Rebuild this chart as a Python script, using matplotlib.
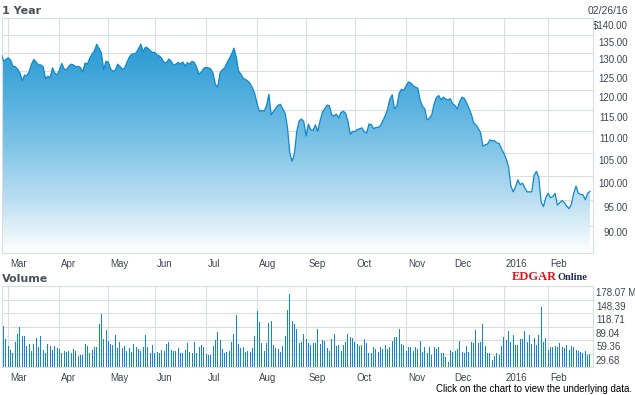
import matplotlib
matplotlib.use("Agg")
import matplotlib.pyplot as plt
import numpy as np
from matplotlib.colors import LinearSegmentedColormap
from matplotlib.patches import Polygon
from matplotlib.ticker import NullLocator
from matplotlib.transforms import ScaledTranslation

plt.rcParams["font.family"] = ["Liberation Sans", "DejaVu Sans"]

# daily close, one value per trading session (02/25/15 .. 02/26/16)
price = [
    129.6, 127.7, 128.2, 128.6, 128.0, 126.4, 126.2, 125.6, 124.5, 122.5,
    124.0, 123.8, 125.0, 126.9, 128.2, 127.4, 126.7, 126.7, 126.2, 123.1,
    123.7, 123.3, 125.9, 124.5, 124.0, 125.3, 127.1, 125.6, 125.4, 126.3,
    126.9, 126.7, 126.2, 126.3, 126.0, 124.8, 127.2, 126.9, 128.5, 129.6,
    130.5, 132.4, 131.2, 130.0, 125.4, 127.7, 127.4, 125.6, 125.0, 125.3,
    126.9, 126.3, 125.6, 125.8, 127.4, 128.8, 129.6, 129.7, 130.0, 131.2,
    132.4, 130.3, 131.6, 131.3, 130.6, 130.1, 130.1, 129.4, 129.1, 128.4,
    127.3, 127.3, 128.3, 127.7, 126.6, 126.9, 127.4, 126.9, 127.5, 126.4,
    127.3, 126.9, 127.7, 127.3, 126.0, 124.2, 124.8, 125.8, 126.0, 125.9,
    125.6, 124.5, 121.6, 120.8, 124.5, 125.4, 125.9, 127.3, 128.4, 129.7,
    131.3, 128.8, 125.0, 124.2, 123.1, 122.8, 122.4, 121.7, 120.6, 119.0,
    116.5, 114.8, 115.0, 114.8, 116.2, 119.0, 113.9, 114.8, 115.6, 116.3,
    116.5, 115.3, 114.3, 110.9, 105.0, 103.2, 105.0, 110.0, 112.5, 112.9,
    112.3, 108.9, 111.7, 110.4, 110.2, 111.5, 110.0, 112.5, 114.5, 115.4,
    116.3, 116.2, 113.9, 113.7, 114.1, 113.2, 114.5, 114.8, 114.3, 112.3,
    109.3, 110.0, 109.9, 110.4, 110.6, 110.8, 109.9, 109.6, 111.7, 111.6,
    110.6, 110.9, 110.9, 111.4, 112.5, 113.7, 115.3, 117.8, 118.9, 115.4,
    116.1, 119.3, 120.3, 120.0, 121.2, 122.2, 121.9, 121.2, 120.8, 120.6,
    117.6, 116.0, 115.4, 112.7, 113.1, 113.9, 116.6, 118.2, 118.7, 117.6,
    118.3, 117.8, 117.6, 117.9, 116.6, 116.2, 115.4, 117.2, 118.3, 118.0,
    116.8, 115.5, 114.1, 112.0, 111.5, 110.7, 109.7, 106.6, 106.9, 107.1,
    108.0, 107.8, 107.8, 107.3, 107.2, 105.9, 105.0, 103.7, 102.0, 97.9,
    96.7, 97.7, 99.2, 98.2, 98.5, 97.5, 96.7, 96.7, 96.7, 100.2,
    101.0, 99.7, 94.7, 93.7, 95.5, 96.4, 95.5, 95.7, 96.4, 94.0,
    94.5, 94.9, 94.5, 93.8, 93.3, 94.2, 96.4, 97.9, 96.4, 96.2,
    96.1, 95.1, 96.4, 96.8,
]

# volume in millions, from the second session on
volume = [
    90.5, 61, 47, 38, 32, 56, 73, 88, 69, 69,
    47, 51, 36.5, 51, 64, 45, 69, 38, 32, 51,
    47, 38, 47, 42, 39, 31, 36, 34, 36, 32,
    39, 36, 25, 28, 27, 51, 47, 32, 38, 44,
    44, 95, 117, 61, 82, 58, 51, 49, 71, 42,
    56, 42, 47, 36.5, 42, 34, 51, 45, 39, 36.5,
    44, 71, 44, 31, 49, 32, 34, 32, 38, 36,
    51, 56, 38, 36, 36, 42, 32, 32, 38, 54,
    34, 32, 56, 32, 45, 49, 44, 29, 27, 27,
    47, 60, 78, 60, 41, 32, 34, 36.5, 56, 73,
    115, 51, 43, 44, 34, 36, 34, 42, 69, 124,
    100, 54, 36.5, 54, 98, 102, 49, 43, 40, 34,
    47, 69, 126, 161, 102, 95, 83, 54, 56, 74,
    61, 54, 49, 54, 54, 83, 51, 60, 58, 42,
    36.5, 61, 73, 47, 49, 36.5, 49, 56, 73, 67,
    64, 56, 51, 47, 49, 61, 53, 31, 32, 45,
    39, 34, 44, 39, 49, 39, 45, 58, 66, 66,
    83, 51, 49, 36.5, 45, 45, 36.5, 44, 39, 58,
    34, 44, 32, 45, 27, 44, 39, 44, 32, 31,
    22, 12, 38, 34, 36.5, 39, 58, 34, 31, 47,
    34, 56, 53, 82, 54, 56, 95, 47, 32, 32,
    15, 25, 32, 27, 47, 67, 60, 80, 56, 71,
    49, 49, 61, 61, 80, 56, 71, 51, 64, 49,
    71, 133, 56, 64, 38, 44, 45, 47, 45, 54,
    44, 42, 49, 38, 47, 44, 38, 36.5, 34, 32,
    36.5, 27, 29,
]

month_labels = ["Mar", "Apr", "May", "Jun", "Jul", "Aug", "Sep", "Oct", "Nov", "Dec", "2016", "Feb"]
month_start = [3, 25, 46, 66, 88, 110, 131, 152, 174, 194, 216, 235]
price_ticks = [90, 95, 100, 105, 110, 115, 120, 125, 130, 135, 140]
vol_ticks = [29.68, 59.36, 89.04, 118.71, 148.39, 178.07]
last_date = "02/26/16"

GRID = "#d9dde4"
LINE = "#1188cc"
TXT = "#3f4650"
TITLE = "#4b525c"

W, H = 635, 395
fig = plt.figure(figsize=(W / 100, H / 100), dpi=100)


def box(l, t, r, b):
    return [l / W, 1 - b / H, (r - l) / W, (b - t) / H]


ax = fig.add_axes(box(2, 18, 593, 253))
axv = fig.add_axes(box(2, 286, 593, 367.3))

x = np.arange(len(price))
xv = np.arange(1, len(volume) + 1)
xlim = (0.3, 254.3)

# price panel, log scale like the original
ax.set_yscale("log")
ax.set_xlim(*xlim)
ax.set_ylim(84.9, 140)
ax.set_autoscale_on(False)

cmap = LinearSegmentedColormap.from_list(
    "fill", [(0, "#ffffff"), (0.22, "#bcdff2"), (0.5, "#74bfe5"), (0.8, "#39a2d7"), (1, "#2394d0")])
grad = np.linspace(0, 1, 256).reshape(-1, 1)
im = ax.imshow(grad, cmap=cmap, aspect="auto", extent=(0, 1, 0, 1),
               transform=ax.transAxes, origin="lower", zorder=1, interpolation="bilinear")
verts = [(x[0], 50)] + list(zip(x, price)) + [(x[-1], 50)]
clip = Polygon(verts, closed=True, transform=ax.transData, facecolor="none", edgecolor="none")
ax.add_patch(clip)
im.set_clip_path(clip)
ax.plot(x, price, color=LINE, lw=0.9, zorder=3)

# volume panel, 1px bars
axv.bar(xv, volume, width=0.43, color=LINE, linewidth=0, antialiased=False, zorder=2)
axv.set_xlim(*xlim)
axv.set_ylim(0, 178.07)

for a in (ax, axv):
    a.set_axisbelow(True)
    a.grid(True, color=GRID, lw=0.8)
    for s in a.spines.values():
        s.set_color(GRID)
        s.set_linewidth(0.8)
    a.set_xticks(month_start)
    a.set_xticklabels(month_labels, fontsize=7, color=TXT, ha="left")
    a.tick_params(length=0)
    a.tick_params(axis="x", pad=4)
    a.yaxis.tick_right()
    a.yaxis.set_minor_locator(NullLocator())
    a.xaxis.set_minor_locator(NullLocator())
    for t in a.get_xticklabels():
        t.set_transform(t.get_transform() + ScaledTranslation(0.02, 0, fig.dpi_scale_trans))

price_labels = [f"{v:.2f}" for v in price_ticks]
price_labels[-1] = "$" + price_labels[-1]
ax.set_yticks(price_ticks)
ax.set_yticklabels(price_labels, fontsize=7, color=TXT)
ax.tick_params(axis="y", pad=25.2)
for t in ax.get_yticklabels():
    t.set_ha("right")
    t.set_va("top")
    t.set_transform(t.get_transform() + ScaledTranslation(0, -0.025, fig.dpi_scale_trans))

vol_labels = [f"{v:.2f}" for v in vol_ticks]
vol_labels[-1] += " M"
axv.set_yticks(vol_ticks)
axv.set_yticklabels(vol_labels, fontsize=7, color=TXT)
axv.tick_params(axis="y", pad=2.2)
for t in axv.get_yticklabels():
    t.set_ha("left")
    t.set_va("top")
    t.set_transform(t.get_transform() + ScaledTranslation(0, -0.02, fig.dpi_scale_trans))

# titles and footer
fig.text(2 / W, 1 - 14 / H, "1 Year", family="DejaVu Sans", fontweight="bold",
         fontsize=8, color=TITLE, va="baseline")
fig.text(2 / W, 1 - 282 / H, "Volume", family="DejaVu Sans", fontweight="bold",
         fontsize=8, color=TITLE, va="baseline")
fig.text(628 / W, 1 - 14.5 / H, last_date, fontsize=7.5, color=TXT, ha="right", va="baseline")
fig.text(512 / W, 1 - 280 / H, "EDGAR", family="Liberation Serif", fontweight="bold",
         fontsize=9, color="#e3141b", va="baseline")
fig.text(557 / W, 1 - 280 / H, "Online", family="Liberation Serif", fontweight="bold",
         fontsize=7.5, color="#1b2a58", va="baseline")
fig.text(632 / W, 1 - 392.5 / H, "Click on the chart to view the underlying data.",
         fontsize=7, color="black", ha="right", va="baseline")

fig.savefig("out.png", dpi=100)
